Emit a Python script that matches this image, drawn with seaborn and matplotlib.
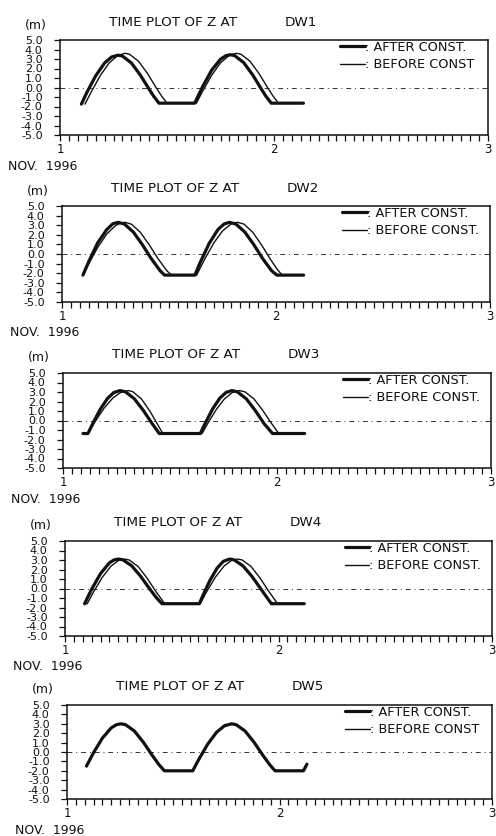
import matplotlib
matplotlib.use("Agg")
import matplotlib.pyplot as plt
import matplotlib.ticker as mticker
import numpy as np
import pandas as pd
import seaborn as sns

# ---- water level Z (m) at the DW stations, time in hours from 1 Nov 1996 00:00 ----
stations = ["DW1", "DW2", "DW3", "DW4", "DW5"]

t_after_dw1 = [2.4, 3.0, 4.0, 5.0, 5.8, 6.5, 7.0, 8.0, 9.0, 10.0, 10.5, 11.1, 15.1, 16.0, 17.0,
               18.0, 18.6, 19.1, 19.6, 20.6, 21.6, 22.6, 23.1, 23.7, 27.3]
z_after_dw1 = [-1.75, -0.54, 1.23, 2.58, 3.22, 3.40, 3.31, 2.59, 1.32, -0.18, -0.91, -1.65, -1.65, 0.10, 1.81,
               2.98, 3.35, 3.45, 3.35, 2.62, 1.34, -0.19, -0.93, -1.65, -1.65]
t_before_dw1 = [2.8, 3.5, 4.5, 5.5, 6.5, 7.3, 7.8, 8.8, 9.8, 10.8, 11.4, 12.0, 15.3, 16.0, 17.0,
                18.0, 19.0, 19.8, 20.3, 21.3, 22.3, 23.3, 23.9, 24.5, 27.3]
z_before_dw1 = [-1.75, -0.47, 1.23, 2.57, 3.39, 3.60, 3.50, 2.77, 1.49, -0.04, -0.91, -1.65, -1.65, -0.39, 1.28,
                2.59, 3.40, 3.60, 3.50, 2.77, 1.49, -0.04, -0.91, -1.65, -1.65]

t_after_dw2 = [2.35, 3.0, 4.0, 5.0, 5.7, 6.3, 7.0, 8.0, 9.0, 10.0, 11.0, 11.5, 14.9, 15.5, 16.5,
               17.5, 18.2, 18.8, 19.5, 20.5, 21.5, 22.5, 23.5, 24.1, 27.1]
z_after_dw2 = [-2.2, -0.79, 1.16, 2.52, 3.15, 3.30, 3.12, 2.29, 0.99, -0.47, -1.74, -2.2, -2.2, -0.88, 1.10,
               2.56, 3.14, 3.30, 3.12, 2.29, 0.99, -0.47, -1.74, -2.2, -2.2]
t_before_dw2 = [2.35, 3.0, 4.0, 5.0, 6.0, 6.6, 7.06, 7.8, 8.8, 9.8, 10.8, 11.8, 12.3, 15.1, 16.0, 17.0,
                18.0, 19.0, 19.7, 20.4, 21.4, 22.4, 23.4, 24.2, 24.7, 27.1]
z_before_dw2 = [-2.2, -1.02, 0.68, 2.06, 2.96, 3.23, 3.30, 3.10, 2.25, 0.93, -0.53, -1.79, -2.2, -2.2, -0.54, 1.12,
                2.40, 3.15, 3.30, 3.12, 2.26, 0.92, -0.59, -1.67, -2.2, -2.2]

t_after_dw3 = [2.24, 2.8, 3.4, 4.2, 5.0, 5.7, 6.4, 7.0, 8.0, 9.0, 10.0, 10.8, 15.4, 16.0, 16.8,
               17.6, 18.3, 18.95, 19.55, 20.55, 21.55, 22.55, 23.5, 27.1]
z_after_dw3 = [-1.37, -1.37, -0.20, 1.22, 2.33, 2.94, 3.15, 3.02, 2.29, 1.07, -0.33, -1.37, -1.37, -0.19, 1.25,
               2.37, 2.96, 3.15, 3.02, 2.29, 1.07, -0.33, -1.37, -1.37]
t_before_dw3 = [2.24, 2.8, 3.6, 4.6, 5.6, 6.5, 7.3, 7.8, 8.8, 9.8, 10.5, 11.2, 15.6, 16.3, 17.2,
                18.1, 19.0, 19.8, 20.4, 21.4, 22.4, 23.4, 24.2, 27.1]
z_before_dw3 = [-1.37, -1.37, -0.12, 1.29, 2.38, 2.97, 3.15, 3.05, 2.27, 0.90, -0.24, -1.37, -1.37, -0.20, 1.17,
                2.27, 2.95, 3.15, 3.02, 2.29, 1.07, -0.33, -1.37, -1.37]

t_after_dw4 = [2.2, 2.6, 3.0, 4.0, 5.0, 5.5, 6.0, 6.5, 7.5, 8.5, 9.5, 10.3, 10.9, 15.1, 15.5, 16.3,
               17.1, 17.8, 18.5, 19.0, 20.0, 21.0, 22.0, 22.7, 23.2, 26.9]
z_after_dw4 = [-1.6, -0.83, -0.07, 1.58, 2.71, 3.00, 3.10, 3.02, 2.39, 1.29, -0.02, -1.00, -1.6, -1.6, -0.74, 0.87,
               2.15, 2.86, 3.10, 3.02, 2.39, 1.29, -0.02, -0.95, -1.6, -1.6]
t_before_dw4 = [2.2, 2.5, 3.2, 4.2, 5.2, 6.0, 6.7, 7.2, 8.2, 9.2, 10.2, 11.2, 15.2, 15.9, 16.9,
                17.9, 18.7, 19.4, 19.9, 20.9, 21.9, 22.9, 23.9, 26.9]
z_before_dw4 = [-1.6, -1.6, -0.38, 1.19, 2.38, 2.94, 3.10, 3.01, 2.33, 1.13, -0.29, -1.6, -1.6, -0.38, 1.19,
                2.38, 2.94, 3.10, 3.01, 2.33, 1.13, -0.29, -1.6, -1.6]

t_after_dw5 = [2.2, 3.0, 4.0, 5.0, 5.6, 6.1, 6.6, 7.6, 8.6, 9.6, 10.4, 11.0, 14.2, 14.9, 15.9, 16.9,
               17.8, 18.6, 19.1, 20.1, 21.1, 22.1, 22.9, 23.5, 26.7, 27.1]
z_after_dw5 = [-1.5, -0.07, 1.48, 2.57, 2.91, 3.00, 2.91, 2.24, 1.07, -0.32, -1.36, -2.0, -2.0, -0.76, 0.85, 2.11,
               2.80, 3.00, 2.91, 2.24, 1.07, -0.32, -1.36, -2.0, -2.0, -1.3]
t_before_dw5 = [2.2, 3.0, 4.0, 5.0, 5.6, 6.1, 6.6, 7.6, 8.6, 9.6, 10.4, 11.0, 14.2, 14.9, 15.9, 16.9,
                17.8, 18.6, 19.1, 20.1, 21.1, 22.1, 22.9, 23.5, 26.7, 27.1]
z_before_dw5 = [-1.5, -0.07, 1.48, 2.57, 2.91, 3.00, 2.91, 2.24, 1.07, -0.32, -1.36, -2.0, -2.0, -0.76, 0.85, 2.11,
                2.80, 3.00, 2.91, 2.24, 1.07, -0.32, -1.36, -2.0, -2.0, -1.3]

after_labels = [": AFTER CONST.", ": AFTER CONST.", ": AFTER CONST.", ": AFTER CONST.", ": AFTER CONST."]
before_labels = [": BEFORE CONST", ": BEFORE CONST.", ": BEFORE CONST.", ": BEFORE CONST.", ": BEFORE CONST"]

y_ticks = [5, 4, 3, 2, 1, 0, -1, -2, -3, -4, -5]
x_days = [1, 2, 3]

series = [
    (t_after_dw1, z_after_dw1, t_before_dw1, z_before_dw1),
    (t_after_dw2, z_after_dw2, t_before_dw2, z_before_dw2),
    (t_after_dw3, z_after_dw3, t_before_dw3, z_before_dw3),
    (t_after_dw4, z_after_dw4, t_before_dw4, z_before_dw4),
    (t_after_dw5, z_after_dw5, t_before_dw5, z_before_dw5),
]

# panel frames in pixels: left, top, right, bottom
frames = [(60, 40, 488, 135), (62, 206, 490, 302), (63, 373, 491, 468),
          (65, 541, 492, 636), (67, 705, 492, 799)]

sns.set_theme(style="ticks")
plt.rcParams["font.family"] = ["DejaVu Sans"]

W, H = 496, 836
fig = plt.figure(figsize=(W / 100, H / 100), dpi=100)
ink = "#111111"

for i, name in enumerate(stations):
    l, t, r, b = frames[i]
    ax = fig.add_axes([l / W, 1 - b / H, (r - l) / W, (b - t) / H])
    ta, za, tb, zb = series[i]
    df_a = pd.DataFrame({"day": 1 + np.asarray(ta) / 24.0, "z": za})
    df_b = pd.DataFrame({"day": 1 + np.asarray(tb) / 24.0, "z": zb})

    ax.axhline(0, color="#333333", lw=0.7, dashes=(5, 4, 1, 4), zorder=1)
    sns.lineplot(data=df_b, x="day", y="z", ax=ax, color=ink, lw=1.0, sort=False,
                 estimator=None, label=before_labels[i], legend=False, zorder=3)
    sns.lineplot(data=df_a, x="day", y="z", ax=ax, color=ink, lw=2.3, sort=False,
                 estimator=None, label=after_labels[i], legend=False, zorder=4)
    for ln in ax.lines:
        ln.set_solid_joinstyle("round")
        ln.set_solid_capstyle("round")

    ax.set_xlim(1, 3)
    ax.set_ylim(-5, 5)
    ax.set_xlabel("")
    ax.set_ylabel("")
    ax.set_xticks(x_days)
    ax.set_xticklabels([str(d) for d in x_days], fontsize=8.5, color=ink)
    ax.xaxis.set_minor_locator(mticker.MultipleLocator(1 / 24))
    ax.set_yticks(y_ticks)
    ax.set_yticklabels([f"{v:.1f}" for v in y_ticks], fontsize=8, color=ink)
    ax.tick_params(axis="x", which="both", direction="out", length=4, width=0.9,
                   pad=1.5, color=ink)
    ax.tick_params(axis="y", which="major", direction="out", length=4, width=0.9,
                   pad=8.5, color=ink)
    for sp in ax.spines.values():
        sp.set_visible(True)
        sp.set_linewidth(1.1)
        sp.set_color(ink)

    handles, labels = ax.get_legend_handles_labels()
    order = [labels.index(after_labels[i]), labels.index(before_labels[i])]
    leg = ax.legend([handles[k] for k in order], [labels[k] for k in order],
                    loc="upper left", bbox_to_anchor=(0.655, 0.99), frameon=False,
                    fontsize=9.3, handlelength=1.9, handletextpad=0.0,
                    labelspacing=0.35, borderpad=0.0, borderaxespad=0.0)
    for txt in leg.get_texts():
        txt.set_color(ink)

    ax.annotate("(m)", xy=(0, 1), xycoords="axes fraction", xytext=(-24, 15),
                textcoords="offset pixels", ha="center", va="center", fontsize=9, color=ink)
    ax.annotate("TIME PLOT OF Z AT", xy=(0, 1), xycoords="axes fraction", xytext=(49, 18),
                textcoords="offset pixels", ha="left", va="center", fontsize=9.7, color=ink)
    ax.annotate(name, xy=(0, 1), xycoords="axes fraction", xytext=(225, 18),
                textcoords="offset pixels", ha="left", va="center", fontsize=9.7, color=ink)
    ax.annotate("NOV.  1996", xy=(0, 0), xycoords="axes fraction", xytext=(-52, -31),
                textcoords="offset pixels", ha="left", va="center", fontsize=9, color=ink)

fig.savefig("out.png", dpi=100, facecolor="white")
